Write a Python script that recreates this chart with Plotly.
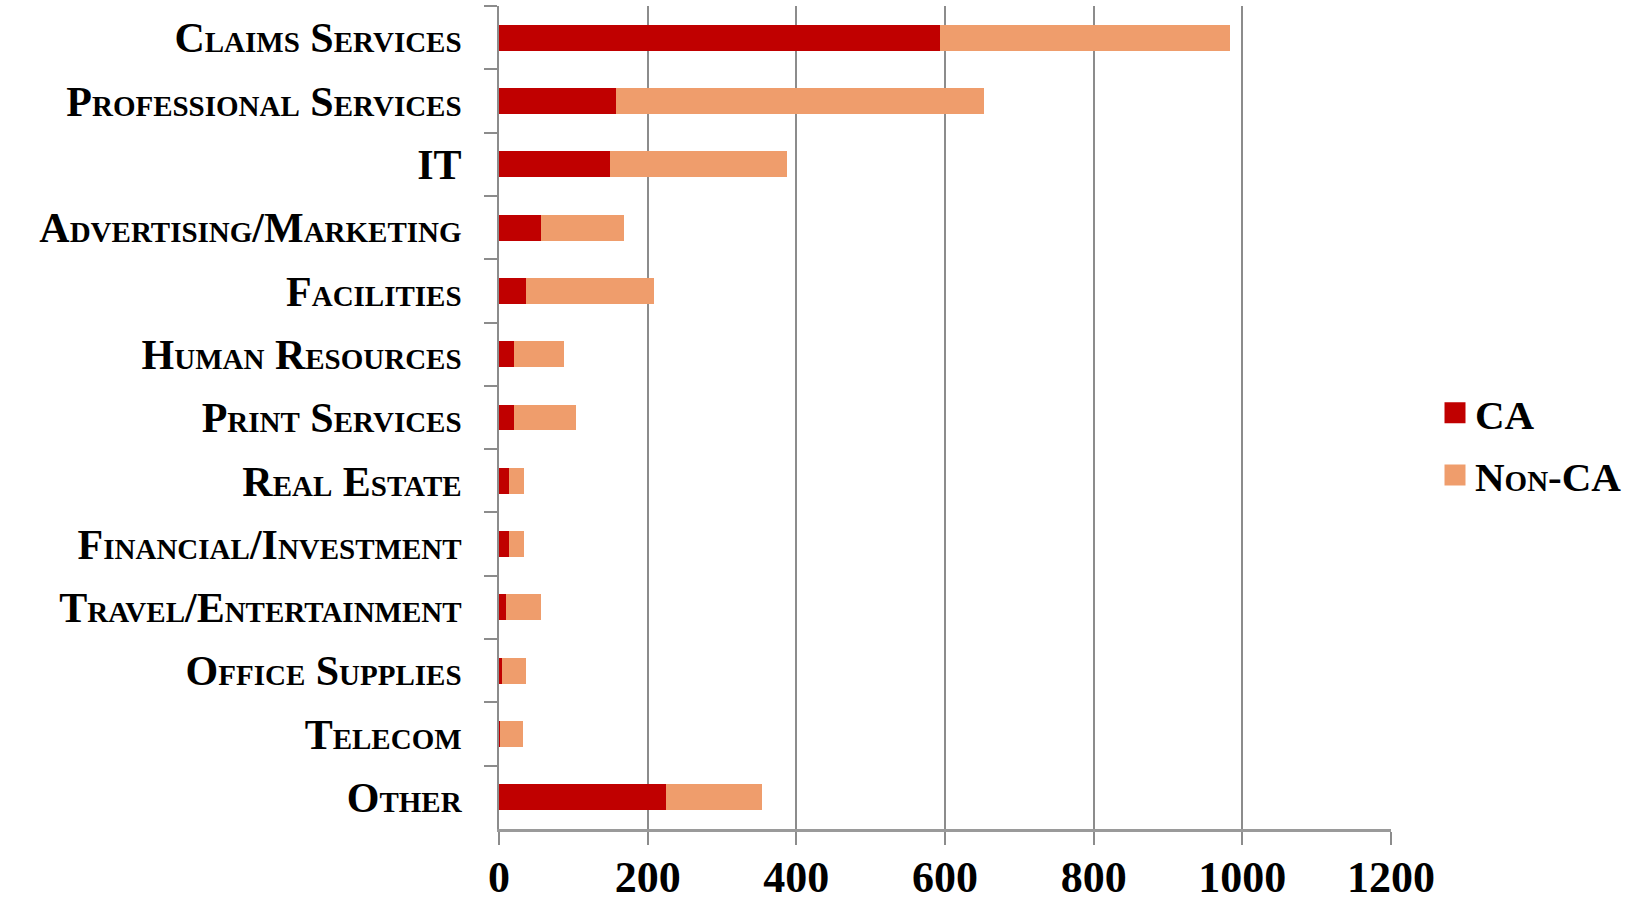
import plotly.graph_objects as go

categories = ["Claims Services", "Professional Services", "IT", "Advertising/Marketing",
              "Facilities", "Human Resources", "Print Services", "Real Estate",
              "Financial/Investment", "Travel/Entertainment", "Office Supplies",
              "Telecom", "Other"]
ca_values = [593, 158, 149, 56, 36, 20, 20, 13, 13, 10, 4, 2, 225]
total_values = [983, 652, 388, 168, 208, 88, 104, 33, 33, 56, 36, 32, 354]
non_ca_values = [t - c for t, c in zip(total_values, ca_values)]
x_ticks = [0, 200, 400, 600, 800, 1000, 1200]

CA_COLOR = "#C00000"
NONCA_COLOR = "#EF9D6C"
FONT = "Liberation Serif"

fig = go.Figure()
fig.add_trace(go.Bar(y=categories, x=ca_values, orientation="h", name="CA",
                     marker=dict(color=CA_COLOR, line=dict(width=0)),
                     showlegend=False, legendgroup="ca"))
fig.add_trace(go.Bar(y=categories, x=non_ca_values, orientation="h", name="Non-CA",
                     marker=dict(color=NONCA_COLOR, line=dict(width=0)),
                     showlegend=False, legendgroup="nonca"))
# legend entries with larger square symbols
fig.add_trace(go.Scatter(x=[None], y=[None], mode="markers", name="CA",
                         marker=dict(symbol="square", size=16, color=CA_COLOR,
                                     line=dict(color=CA_COLOR, width=5)),
                         legendgroup="ca"))
fig.add_trace(go.Scatter(x=[None], y=[None], mode="markers", name="Non-CA",
                         marker=dict(symbol="square", size=16, color=NONCA_COLOR,
                                     line=dict(color=NONCA_COLOR, width=5)),
                         legendgroup="nonca"))

fig.update_layout(
    width=1634, height=901,
    barmode="stack", bargap=0.59,
    plot_bgcolor="white", paper_bgcolor="white",
    margin=dict(l=499, r=243, t=6, b=72, autoexpand=False),
    font=dict(family=FONT, color="black"),
    legend=dict(
        x=1435 / 1634, xref="container", xanchor="left",
        y=1 - 444 / 901, yref="container", yanchor="middle",
        font=dict(family=FONT, size=41, weight="bold", variant="small-caps", color="black"),
        itemsizing="trace", tracegroupgap=6, bgcolor="rgba(0,0,0,0)",
    ),
    xaxis=dict(
        range=[0, 1200], tickvals=x_ticks, ticktext=[str(v) for v in x_ticks],
        showgrid=True, gridcolor="#8C8C8C", gridwidth=2,
        showline=True, linecolor="#9A9A9A", linewidth=3,
        ticks="outside", ticklen=13, tickcolor="#8C8C8C", tickwidth=2,
        tickfont=dict(family=FONT, size=44, weight="bold", color="black"),
        ticklabelstandoff=-6, zeroline=False, fixedrange=True, automargin=False,
    ),
    yaxis=dict(
        categoryorder="array", categoryarray=categories, autorange="reversed",
        showgrid=False, showline=True, linecolor="#8C8C8C", linewidth=2,
        ticks="outside", ticklen=13, tickcolor="#8C8C8C", tickwidth=2,
        tickson="boundaries",
        tickfont=dict(family=FONT, size=42, weight="bold", variant="small-caps", color="black"),
        ticklabelstandoff=27, fixedrange=True, automargin=False,
    ),
)

fig.write_html("out.html", config={"displayModeBar": False},
               post_script="document.body.style.margin='0';")
